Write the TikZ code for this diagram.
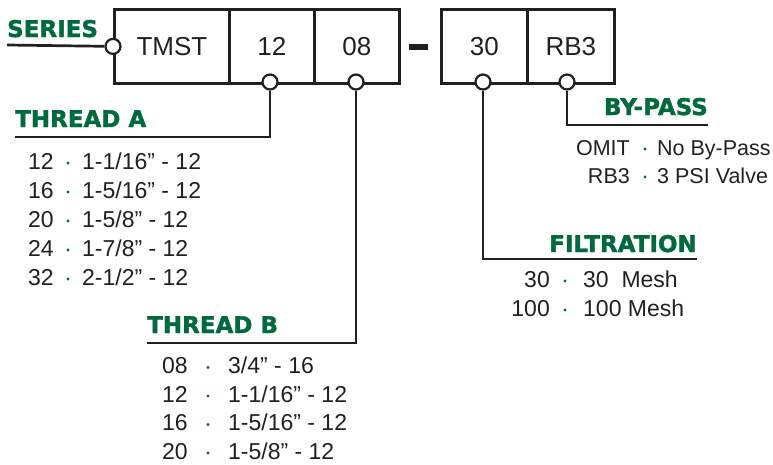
\documentclass[tikz,border=0pt]{standalone}
\usepackage{fontspec}
\setmainfont{Liberation Sans}
\newfontfamily\headfont[BoldFeatures={FakeBold=1.6}]{DejaVu Sans}
\definecolor{tmgreen}{RGB}{0,106,61}
\definecolor{tmink}{RGB}{35,31,32}
\tikzset{
  seg/.style={draw=tmink,line width=2.8pt,minimum height=74pt,anchor=north west,inner sep=0pt,
    text=tmink,font=\fontsize{26}{30}\selectfont},
  head/.style={inner sep=0pt,text=tmgreen,font=\headfont\bfseries\fontsize{23}{27}\selectfont},
  item/.style={inner sep=0pt,text=tmink,font=\fontsize{23}{27}\selectfont},
  small item/.style={item,font=\fontsize{21.5}{25}\selectfont},
  pin/.style={circle,draw=tmink,fill=white,line width=2.2pt,minimum size=15pt,inner sep=0pt},
  dot/.style={circle,fill=tmgreen,inner sep=0pt,minimum size=3.4pt},
  lead/.style={draw=tmink,line width=2.7pt}
}
\begin{document}
\begin{tikzpicture}[x=1pt,y=-1pt]
  \useasboundingbox (0,0) rectangle (773,464);
  % part number boxes
  \node[seg,minimum width=115pt] (tmst) at (113,8) {TMST};
  \node[seg,minimum width=85pt] (ta) at (228,8) {12};
  \node[seg,minimum width=85pt] (tb) at (313,8) {08};
  \draw[tmink,line width=6pt] (409,47) coordinate (dl) -- (428,47) coordinate (dr);
  \node[seg,minimum width=86pt] (filt) at (440,8) {30};
  \node[seg,minimum width=87pt] (byp) at (526,8) {RB3};
  % pins and leaders
  \coordinate (sl) at (7,45);
  \coordinate (tal) at (15,137);
  \coordinate (tbl) at (147,343);
  \coordinate (fl) at (697,259);
  \coordinate (bl) at (708,125);
  \node[pin] (ps) at (tmst.west) {};
  \node[pin] (pa) at (270,82) {};
  \node[pin] (pb) at (356,82) {};
  \node[pin] (pf) at (483,82) {};
  \node[pin] (pp) at (567,82) {};
  \draw[lead] (ps) -- (sl);
  \draw[lead] (pa) |- (tal);
  \draw[lead] (pb) |- (tbl);
  \draw[lead] (pf) |- (fl);
  \draw[lead] (pp) |- (bl);
  % headings
  \node[head,anchor=base west] (series) at (7,37) {SERIES};
  \node[head,anchor=base west] (hta) at (15,127) {THREAD A};
  \node[head,anchor=base west] (htb) at (147,333) {THREAD B};
  \node[head,anchor=base east] (hf) at (697,252) {FILTRATION};
  \node[head,anchor=base east] (hb) at (708,115) {BY-PASS};
  % thread A
  \foreach \c/\v [count=\i] in {12/{1-1/16” - 12},16/{1-5/16” - 12},20/{1-5/8” - 12},24/{1-7/8” - 12},32/{2-1/2” - 12}}{
    \node[item,anchor=base west] (ac\i) at (28,140+29*\i) {\c};
    \node[dot] (ad\i) at (68,134+29*\i) {};
    \node[item,anchor=base west] (av\i) at (82,140+29*\i) {\v};
  }
  % thread B
  \foreach \c/\v [count=\i] in {08/{3/4” - 16},12/{1-1/16” - 12},16/{1-5/16” - 12},20/{1-5/8” - 12}}{
    \node[item,anchor=base west] (bc\i) at (162,345+28.5*\i) {\c};
    \node[dot] (bd\i) at (208,339+28.5*\i) {};
    \node[item,anchor=base west] (bv\i) at (228,345+28.5*\i) {\v};
  }
  % filtration
  \foreach \c/\v [count=\i] in {30/{30\ \ Mesh},100/{100 Mesh}}{
    \node[item,anchor=base east] (fc\i) at (550,258+29*\i) {\c};
    \node[dot] (fd\i) at (565,252+29*\i) {};
    \node[item,anchor=base west] (fv\i) at (583,258+29*\i) {\v};
  }
  % by-pass
  \foreach \c/\v [count=\i] in {OMIT/{No By-Pass},RB3/{3 PSI Valve}}{
    \node[small item,anchor=base east] (pc\i) at (630,127+28*\i) {\c};
    \node[dot] (pd\i) at (645,121+28*\i) {};
    \node[small item,anchor=base west] (pv\i) at (657,127+28*\i) {\v};
  }
\end{tikzpicture}
\end{document}
